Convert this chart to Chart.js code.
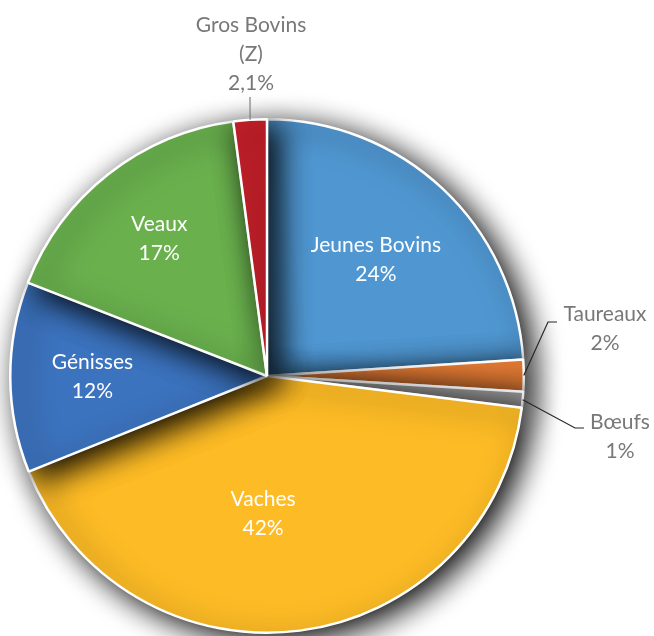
<!DOCTYPE html>
<html>
<head>
<meta charset="utf-8">
<script src="https://cdn.jsdelivr.net/npm/chart.js@4/dist/chart.umd.min.js"></script>
<style>
  html, body { margin: 0; padding: 0; background: #fff; }
  #wrap { width: 654px; height: 636px; }
</style>
</head>
<body>
<div id="wrap"><canvas id="pieChart" width="654" height="636"></canvas></div>
<script>
const categories = ['Jeunes Bovins', 'Taureaux', 'Bœufs', 'Vaches', 'Génisses', 'Veaux', 'Gros Bovins (Z)'];
const values = [24, 2, 1, 42, 12, 17, 2.1];
const valueLabels = ['24%', '2%', '1%', '42%', '12%', '17%', '2,1%'];
const colors = ['#5097D1', '#EF8238', '#A3A3A3', '#FDBC26', '#3C73BE', '#6AB14E', '#C7202A'];

// label placement per slice: inside (radius fraction + angle tweak) or outside (offset from pie centre)
const labelSpots = [
    { inside: true, r: 0.62, a: 0, lines: ['Jeunes Bovins'] },
    { inside: false, lines: ['Taureaux'], dx: 338, dy: -47, elbow: [281, -54], line: '#262626' },
    { inside: false, lines: ['Bœufs'], dx: 353, dy: 61, elbow: [308, 52], line: '#262626' },
    { inside: true, r: 0.535, a: 9, lines: ['Vaches'] },
    { inside: true, r: 0.68, a: 0, lines: ['Génisses'] },
    { inside: true, r: 0.68, a: 0, lines: ['Veaux'] },
    { inside: false, lines: ['Gros Bovins', '(Z)'], dx: -16, dy: -322, elbow: [-17, -279], line: '#7f7f7f' }
];

const shadowPlugin = {
    id: 'sliceShadow',
    beforeDatasetsDraw(chart) {
        const c = chart.ctx;
        c.save();
        c.shadowColor = 'rgba(0,0,0,1)';
        c.shadowBlur = 30;
        c.shadowOffsetX = 9;
        c.shadowOffsetY = 7;
    },
    afterDatasetsDraw(chart) {
        chart.ctx.restore();
    }
};

const labelPlugin = {
    id: 'pieLabels',
    afterDatasetsDraw(chart) {
        const c = chart.ctx;
        const arcs = chart.getDatasetMeta(0).data;
        const lh = 29;
        c.save();
        c.shadowColor = 'rgba(0,0,0,0)';
        c.font = '21px Lato';
        c.textAlign = 'center';
        c.textBaseline = 'middle';
        arcs.forEach((arc, i) => {
            const spot = labelSpots[i];
            const mid = (arc.startAngle + arc.endAngle) / 2;
            const lines = spot.lines.concat([valueLabels[i]]);
            let x, y;
            if (spot.inside) {
                const ang = mid + spot.a * Math.PI / 180;
                x = arc.x + Math.cos(ang) * arc.outerRadius * spot.r;
                y = arc.y + Math.sin(ang) * arc.outerRadius * spot.r;
                c.fillStyle = '#ffffff';
            } else {
                x = arc.x + spot.dx;
                y = arc.y + spot.dy;
                c.fillStyle = '#787878';
                // leader line
                const sx = arc.x + Math.cos(mid) * arc.outerRadius;
                const sy = arc.y + Math.sin(mid) * arc.outerRadius;
                c.strokeStyle = spot.line;
                c.lineWidth = 1.2;
                c.beginPath();
                c.moveTo(sx, sy);
                c.lineTo(arc.x + spot.elbow[0], arc.y + spot.elbow[1]);
                if (i !== 6) {
                    c.lineTo(arc.x + spot.elbow[0] + 9, arc.y + spot.elbow[1]);
                }
                c.stroke();
            }
            const top = y - (lines.length - 1) * lh / 2;
            lines.forEach((t, k) => c.fillText(t, x, top + k * lh));
        });
        c.restore();
    }
};

const ctx = document.getElementById('pieChart').getContext('2d');
const pieChart = new Chart(ctx, {
    type: 'pie',
    data: {
        labels: categories,
        datasets: [{
            data: values,
            backgroundColor: colors,
            borderColor: '#ffffff',
            borderWidth: 2.5,
            clip: false
        }]
    },
    options: {
        responsive: false,
        animation: false,
        layout: {
            padding: { left: 9, right: 129, top: 118, bottom: 2 }
        },
        plugins: {
            legend: { display: false },
            tooltip: { enabled: false }
        }
    },
    plugins: [shadowPlugin, labelPlugin]
});
</script>
</body>
</html>
